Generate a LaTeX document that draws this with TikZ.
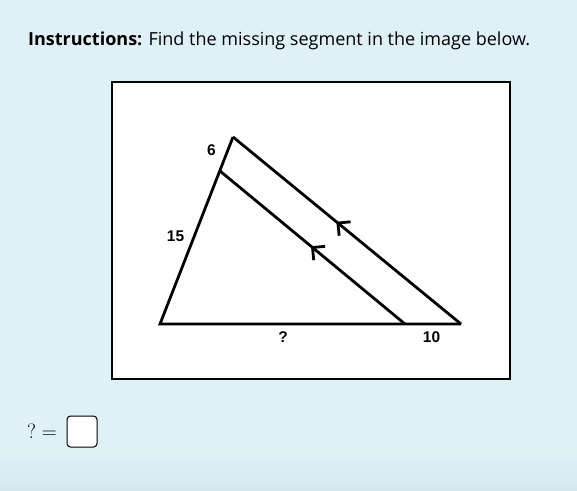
\documentclass[tikz,border=0pt]{standalone}
\usepackage{fontspec}
\newfontfamily\ui{Open Sans}
\newfontfamily\lbl{Liberation Sans}
\usetikzlibrary{decorations.markings}
\definecolor{bgtop}{HTML}{DFF0F7}
\definecolor{bgbot}{HTML}{D4E7EF}
\tikzset{
  fig/.style={line width=2.8pt, line join=miter},
  lab/.style={font=\lbl\bfseries\fontsize{15.5}{18}\selectfont, inner sep=0pt},
  midarrow/.style={postaction={decorate, decoration={markings,
     mark=at position #1 with {\draw[line width=2.8pt, line join=miter] (-9pt,9pt) -- (0pt,0pt) -- (-9pt,-9pt);}}}},
}
\begin{document}
\begin{tikzpicture}[x=1pt,y=-1pt]
\useasboundingbox (0,0) rectangle (577,490);
\fill[bgtop] (0,0) rectangle (577,450);
\shade[top color=bgtop, bottom color=bgbot] (0,450) rectangle (577,490);
\node[anchor=base west, inner sep=0pt, font=\ui\fontsize{18}{21}\selectfont] (instr) at (28,45)
  {\textbf{Instructions:} Find the missing segment in the image below.};
\draw[fill=white, line width=2.6pt] (112,82) rectangle (510,379);
\coordinate (A) at (233,137);
\coordinate (B) at (160,324);
\coordinate (C) at (461,324);
\coordinate (D) at (220,171);
\coordinate (E) at (405,324);
\draw[fig] (A) -- (B) -- (C);
\draw[fig, midarrow=0.54] (C) -- (A);
\draw[fig, midarrow=0.50] (E) -- (D);
\node[lab] (l6) at (211.5,150) {6};
\node[lab] (l15) at (175.5,236.5) {15};
\node[lab] (lq) at (283,337) {?};
\node[lab] (l10) at (431.5,337) {10};
\node[anchor=base west, inner sep=0pt, font=\fontsize{20}{24}\selectfont] (eq) at (27,438) {$?=$};
\node[draw, fill=white, rounded corners=3.5pt, line width=1pt, minimum width=30pt, minimum height=31pt, inner sep=0pt] (ans) at (82,431.5) {};
\end{tikzpicture}
\end{document}
